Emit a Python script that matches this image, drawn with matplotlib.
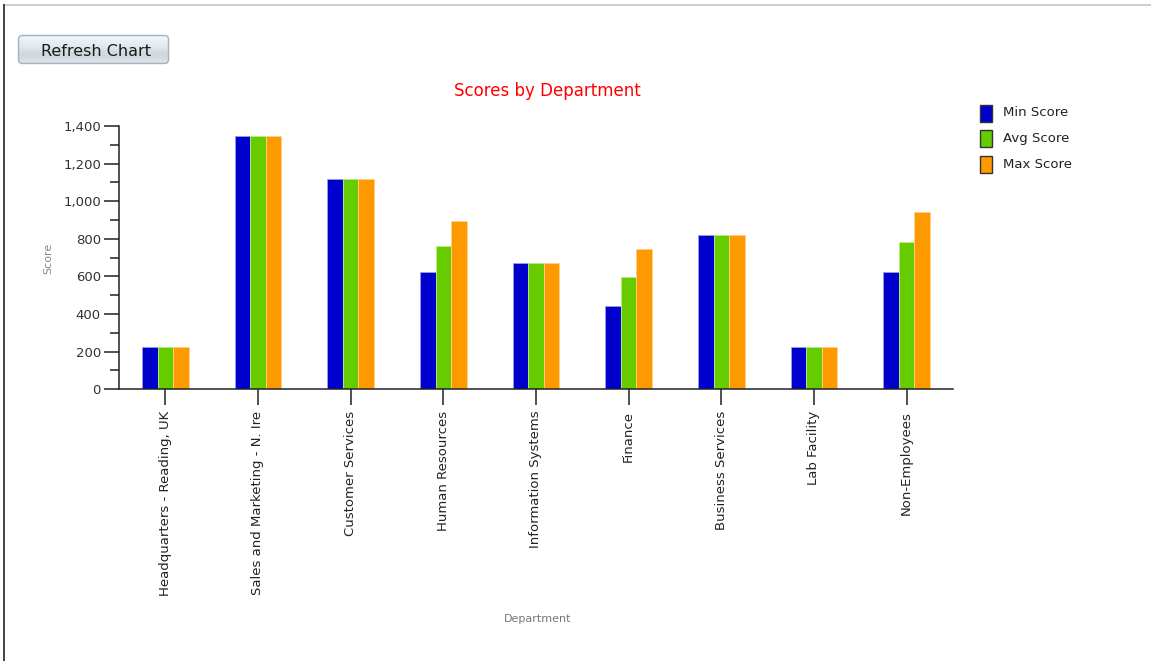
import matplotlib
matplotlib.use("Agg")
import matplotlib.pyplot as plt
import numpy as np
from matplotlib.patches import FancyBboxPatch, Rectangle
from matplotlib.ticker import FuncFormatter, MultipleLocator

departments = [
    "Headquarters - Reading, UK",
    "Sales and Marketing - N. Ire",
    "Customer Services",
    "Human Resources",
    "Information Systems",
    "Finance",
    "Business Services",
    "Lab Facility",
    "Non-Employees",
]
min_score = [224, 1345, 1117, 626, 670, 443, 822, 224, 626]
avg_score = [224, 1345, 1117, 761, 670, 596, 822, 224, 783]
max_score = [224, 1345, 1117, 897, 670, 745, 822, 224, 941]

series_names = ["Min Score", "Avg Score", "Max Score"]
series_colors = ["#0000cc", "#66cc00", "#ff9900"]
edge_colors = ["#9a9aee", "#b8ee88", "#ffd08a"]

W, H = 1151, 661


def main():
    plt.rcParams["font.family"] = ["DejaVu Sans"]
    fig = plt.figure(figsize=(W / 100, H / 100), dpi=100)

    # page overlay in pixel coordinates (frame + button + legend)
    over = fig.add_axes([0, 0, 1, 1], zorder=0)
    over.set_xlim(0, W)
    over.set_ylim(H, 0)
    over.axis("off")
    over.plot([4, W], [5, 5], color="#c4c4c4", lw=1.2)
    over.plot([4, 4], [5, H], color="#222222", lw=1.2)

    btn = FancyBboxPatch((18.5, 35.5), 150, 28,
                         boxstyle="round,pad=0,rounding_size=4",
                         facecolor="none", edgecolor="#a8b0ba", lw=1.0, zorder=3)
    over.add_patch(btn)
    grad = np.array([[0.99], [0.97], [0.95], [0.93], [0.89], [0.87], [0.88], [0.91]])
    rgb = np.dstack([grad - 0.05, grad - 0.025, grad + 0.0]).clip(0, 1)
    im = over.imshow(rgb, extent=[18.5, 168.5, 63.5, 35.5], aspect="auto",
                     interpolation="bilinear", zorder=2)
    im.set_clip_path(btn)
    over.text(96, 51, "Refresh Chart", ha="center", va="center",
              fontsize=11.5, color="#1a1a1a", zorder=4)

    # legend drawn by hand
    for i, (name, color) in enumerate(zip(series_names, series_colors)):
        yc = 113 + i * 25.5
        over.add_patch(Rectangle((980, yc - 8.5), 12, 17, facecolor=color,
                                 edgecolor="#333333", lw=1.0))
        over.text(1003, yc, name, ha="left", va="center",
                  fontsize=9.5, color="#222222")

    # chart
    ax = fig.add_axes([119 / W, 271.7 / H, 834 / W, 263.3 / H], zorder=1)
    ax.patch.set_alpha(0)
    x = np.arange(len(departments))
    width = 0.167
    for k, values in enumerate([min_score, avg_score, max_score]):
        ax.bar(x + (k - 1) * width, values, width, color=series_colors[k],
               edgecolor=edge_colors[k], linewidth=0.6)

    ax.set_xlim(-0.5, len(departments) - 0.5)
    ax.set_ylim(0, 1400)
    ax.yaxis.set_major_locator(MultipleLocator(200))
    ax.yaxis.set_minor_locator(MultipleLocator(100))
    ax.yaxis.set_major_formatter(FuncFormatter(lambda v, p: f"{int(v):,}"))
    ax.set_xticks(x)
    ax.set_xticklabels(departments, rotation=90, ha="center", va="top")

    for side in ("top", "right"):
        ax.spines[side].set_visible(False)
    for side in ("left", "bottom"):
        ax.spines[side].set_linewidth(1.1)
        ax.spines[side].set_color("#222222")

    ax.tick_params(axis="y", which="major", length=11, width=1.1,
                   color="#222222", labelsize=9.5, labelcolor="#333333", pad=2)
    ax.tick_params(axis="y", which="minor", length=6.5, width=1.1, color="#222222")
    ax.tick_params(axis="x", which="major", length=11.5, width=1.1,
                   color="#222222", labelsize=9.5, labelcolor="#222222", pad=4)

    over.text(547, 91, "Scores by Department", ha="center", va="center",
              fontsize=12, color="#ff0000")
    over.text(48, 258, "Score", ha="center", va="center", rotation=90,
              fontsize=8, color="#888888")
    over.text(538, 619, "Department", ha="center", va="center",
              fontsize=8, color="#777777")

    fig.savefig("out.png", dpi=100)
    plt.close(fig)


if __name__ == "__main__":
    main()
